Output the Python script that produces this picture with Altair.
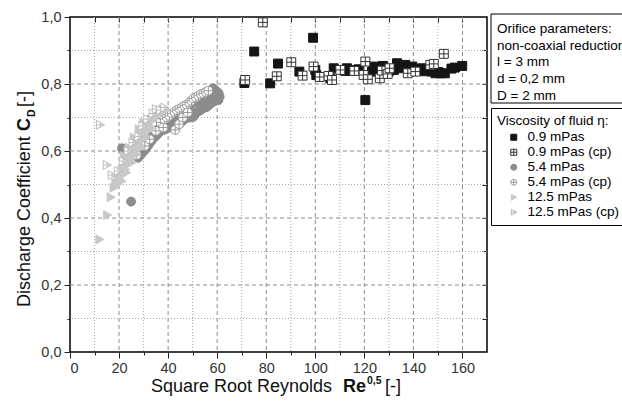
import altair as alt
import pandas as pd

FONT = "Liberation Sans"

series_names = ["0.9 mPas", "0.9 mPas (cp)", "5.4 mPas", "5.4 mPas (cp)",
                "12.5 mPas", "12.5 mPas (cp)"]

x_09 = [71.1, 75.1, 81.6, 84.8, 93.5, 99.1, 100.0, 100.4, 106.1, 107.5, 112.2,
        112.9, 114.0, 117.0, 117.7, 120.4, 123.1, 123.8, 125.5, 127.6, 130.0,
        132.0, 133.3, 135.4, 136.7, 138.0, 139.5, 142.2, 143.5, 144.5, 145.6,
        147.6, 149.0, 150.0, 151.0, 152.8, 155.5, 156.9, 159.9]
y_09 = [0.803, 0.897, 0.802, 0.861, 0.837, 0.938, 0.842, 0.827, 0.817, 0.847, 0.839,
        0.847, 0.840, 0.842, 0.844, 0.752, 0.837, 0.852, 0.845, 0.854, 0.838,
        0.842, 0.862, 0.847, 0.857, 0.845, 0.852, 0.844, 0.847, 0.838, 0.842,
        0.837, 0.832, 0.836, 0.832, 0.832, 0.846, 0.849, 0.854]

x_09cp = [71.4, 78.6, 84.3, 90.2, 94.8, 99.3, 101.8, 105.4, 106.8, 110.2, 115.9,
          119.7, 120.4, 121.4, 126.3, 127.2, 129.5, 130.3, 137.7, 140.8, 146.9,
          148.3, 152.4]
y_09cp = [0.812, 0.984, 0.823, 0.865, 0.825, 0.852, 0.821, 0.824, 0.812, 0.842, 0.839,
          0.827, 0.867, 0.814, 0.817, 0.840, 0.830, 0.847, 0.832, 0.837, 0.857,
          0.860, 0.890]

x_54 = [21.2, 24.9, 27.8, 29.0, 30.2, 31.0, 32.0, 33.0, 34.0, 35.0, 36.0, 36.7,
        37.8, 38.8, 39.8, 40.8, 41.8, 42.8, 43.8, 44.9, 45.8, 46.8, 47.8, 48.8,
        49.8, 50.3, 51.2, 52.2, 53.2, 54.2, 55.0, 55.8, 56.8, 57.8, 58.8, 59.8,
        60.5, 61.0, 60.6, 59.8, 58.8, 58.4, 57.5, 56.5, 55.5, 54.5, 53.5, 52.5,
        51.5, 50.5, 49.5, 48.5, 47.5, 46.5, 45.5, 44.5, 43.5, 42.5, 41.5, 40.5,
        39.5, 38.5, 37.5, 36.5, 35.5, 34.5, 33.5, 53.0, 55.0, 57.0, 59.0, 60.0,
        56.0, 58.0]
y_54 = [0.608, 0.449, 0.580, 0.590, 0.600, 0.608, 0.618, 0.628, 0.638, 0.645, 0.652, 0.658,
        0.662, 0.665, 0.668, 0.672, 0.676, 0.680, 0.684, 0.682, 0.690, 0.695, 0.700, 0.700,
        0.706, 0.702, 0.712, 0.718, 0.722, 0.728, 0.730, 0.732, 0.738, 0.745, 0.748, 0.752,
        0.752, 0.762, 0.772, 0.778, 0.784, 0.787, 0.782, 0.778, 0.772, 0.768, 0.764, 0.758,
        0.752, 0.748, 0.740, 0.732, 0.725, 0.718, 0.712, 0.706, 0.700, 0.695, 0.690, 0.686,
        0.682, 0.678, 0.672, 0.668, 0.662, 0.655, 0.648, 0.740, 0.752, 0.762, 0.768, 0.765,
        0.757, 0.775]

x_54cp = [27.2, 28.2, 30.5, 32.5, 35.0, 37.0, 38.0, 38.5, 39.5, 40.5, 41.5, 42.6,
          42.9, 43.6, 44.5, 44.6, 45.6, 46.0, 46.6, 47.6, 48.0, 48.6, 49.5, 50.3,
          51.3, 52.3, 53.4, 54.4, 55.4, 56.4]
y_54cp = [0.588, 0.643, 0.615, 0.635, 0.660, 0.685, 0.670, 0.695, 0.700, 0.705, 0.712, 0.717,
          0.663, 0.722, 0.680, 0.726, 0.730, 0.700, 0.735, 0.738, 0.715, 0.745, 0.750, 0.757,
          0.760, 0.765, 0.770, 0.772, 0.776, 0.780]

x_125 = [12.0, 15.2, 16.6, 17.8, 18.5, 19.2, 19.6, 20.3, 20.8, 21.4, 21.9, 22.5,
         23.0, 23.6, 24.1, 24.7, 25.2, 25.8, 26.3, 26.9, 27.4, 28.0, 28.5, 29.1,
         29.6, 30.2, 30.7, 31.3, 31.8, 32.4, 32.9, 33.5, 34.0, 34.6, 35.1, 35.7,
         36.3, 37.0, 37.8, 38.6, 22.0, 24.0, 26.0, 28.0, 30.0, 21.0, 23.0, 25.0,
         27.0, 29.0, 31.0, 33.0]
y_125 = [0.336, 0.409, 0.462, 0.490, 0.505, 0.500, 0.525, 0.515, 0.540, 0.530, 0.555, 0.545,
         0.570, 0.560, 0.585, 0.575, 0.600, 0.590, 0.615, 0.605, 0.630, 0.620, 0.645, 0.635,
         0.660, 0.650, 0.670, 0.665, 0.685, 0.675, 0.695, 0.690, 0.705, 0.700, 0.715, 0.710,
         0.720, 0.715, 0.725, 0.720, 0.585, 0.610, 0.640, 0.665, 0.685, 0.510, 0.535, 0.565,
         0.590, 0.610, 0.640, 0.665]

x_125cp = [12.2, 15.0, 17.0, 19.5, 21.5, 23.5, 25.5, 27.9, 29.5, 31.5, 33.7, 35.0,
           36.7, 38.5]
y_125cp = [0.678, 0.558, 0.528, 0.540, 0.570, 0.600, 0.625, 0.643, 0.675, 0.695, 0.712, 0.725,
           0.722, 0.730]

orifice_lines = ["Orifice parameters:", "non-coaxial reduction", "l = 3 mm",
                 "d = 0,2 mm", "D = 2 mm"]

x_ticks_major = [0, 20, 40, 60, 80, 100, 120, 140, 160]
x_ticks_minor = [10, 30, 50, 70, 90, 110, 130, 150]
x_ticks_all = [0, 10, 20, 30, 40, 50, 60, 70, 80, 90, 100, 110, 120, 130, 140, 150, 160]
y_ticks_major = [0.0, 0.2, 0.4, 0.6, 0.8, 1.0]
y_ticks_minor = [0.1, 0.3, 0.5, 0.7, 0.9]
y_ticks_all = [0.0, 0.1, 0.2, 0.3, 0.4, 0.5, 0.6, 0.7, 0.8, 0.9, 1.0]
x_grid_major = [20, 40, 60, 80, 100, 120, 140, 160]
y_grid_major = [0.2, 0.4, 0.6, 0.8]

shapes = ["square",
          "M-1,-1H1V1H-1Z M-1,0H1 M0,-1V1",
          "circle",
          "M-1,0A1,1 0 1,0 1,0A1,1 0 1,0 -1,0Z M-1,0H1 M0,-1V1",
          "M-0.8,-1L1,0L-0.8,1Z",
          "M-0.8,-1L1,0L-0.8,1Z M-0.8,0H1 M0.1,-0.55V0.55"]
fills = ["#151515", "#ffffff", "#8c8c8c", "#ffffff", "#c8c8c8", "#ffffff"]
strokes = ["#151515", "#333333", "#8c8c8c", "#9a9a9a", "#c8c8c8", "#bcbcbc"]

rows = []
for name, xs, ys in zip(series_names,
                        [x_09, x_09cp, x_54, x_54cp, x_125, x_125cp],
                        [y_09, y_09cp, y_54, y_54cp, y_125, y_125cp]):
    for xv, yv in zip(xs, ys):
        rows.append({"series": name, "x": xv, "y": yv})
df = pd.DataFrame(rows)

xscale = alt.Scale(domain=[0, 170], nice=False, zero=False)
yscale = alt.Scale(domain=[0, 1], nice=False, zero=False)

axis_common = dict(title=None, domain=False, grid=False, tickColor="#222",
                   labelFont=FONT, labelFontSize=14.5, labelColor="#333")

gx_minor = alt.Chart(pd.DataFrame({"v": x_ticks_minor})).mark_rule(
    strokeDash=[1, 2], color="#a8a8a8", strokeWidth=1).encode(
    x=alt.X("v:Q", scale=xscale,
            axis=alt.Axis(orient="bottom", values=x_ticks_minor, tickSize=3,
                          labels=False, **axis_common)))
gx_major = alt.Chart(pd.DataFrame({"v": x_grid_major})).mark_rule(
    strokeDash=[4, 3], color="#8c8c8c", strokeWidth=1).encode(
    x=alt.X("v:Q", scale=xscale,
            axis=alt.Axis(orient="bottom", values=x_ticks_major, tickSize=6,
                          labelPadding=3, **axis_common)))
gy_minor = alt.Chart(pd.DataFrame({"v": y_ticks_minor})).mark_rule(
    strokeDash=[1, 2], color="#a8a8a8", strokeWidth=1).encode(
    y=alt.Y("v:Q", scale=yscale,
            axis=alt.Axis(orient="left", values=y_ticks_minor, tickSize=3,
                          labels=False, **axis_common)))
gy_major = alt.Chart(pd.DataFrame({"v": y_grid_major})).mark_rule(
    strokeDash=[4, 3], color="#8c8c8c", strokeWidth=1).encode(
    y=alt.Y("v:Q", scale=yscale,
            axis=alt.Axis(orient="left", values=y_ticks_major, tickSize=6,
                          labelPadding=3,
                          labelExpr="replace(format(datum.value, '.1f'), '.', ',')",
                          **axis_common)))

leg = alt.Legend(title="Viscosity of fluid \u03b7:", orient="none", legendX=421, legendY=91,
                 strokeColor="black", padding=6, fillColor="white",
                 titleFont=FONT, titleFontSize=13.5, titleFontWeight="normal",
                 titleColor="black", titlePadding=3,
                 labelFont=FONT, labelFontSize=13.5, labelColor="black",
                 symbolSize=36, symbolOffset=10, labelOffset=7, rowPadding=0,
                 symbolStrokeWidth=1,
                 labelExpr="indexof(datum.label, '0.9') == 0 ? '\u00a0\u00a0' + datum.label : datum.label")

points = alt.Chart(df).mark_point(filled=True, opacity=1, size=80, strokeWidth=1).encode(
    x=alt.X("x:Q", scale=xscale,
            axis=alt.Axis(orient="top", values=x_ticks_all[1:], tickSize=5, offset=-5,
                          labels=False, **axis_common)),
    y=alt.Y("y:Q", scale=yscale,
            axis=alt.Axis(orient="right", values=y_ticks_all[1:-1], tickSize=5, offset=-5,
                          labels=False, **axis_common)),
    shape=alt.Shape("series:N", scale=alt.Scale(domain=series_names, range=shapes), legend=leg),
    fill=alt.Fill("series:N", scale=alt.Scale(domain=series_names, range=fills), legend=leg),
    stroke=alt.Stroke("series:N", scale=alt.Scale(domain=series_names, range=strokes), legend=leg),
)

one = pd.DataFrame({"a": [0]})


def label(text, x, y, size=18, weight="normal", angle=0):
    return alt.Chart(one).mark_text(
        text=text, font=FONT, fontSize=size, fontWeight=weight, align="left",
        baseline="alphabetic", angle=angle, color="#111").encode(
        x=alt.value(x), y=alt.value(y))


orifice_box = alt.Chart(one).mark_rect(fill="white", stroke="black", strokeWidth=1).encode(
    x=alt.value(421), x2=alt.value(640), y=alt.value(-3), y2=alt.value(86))
orifice_text = alt.Chart(one).mark_text(
    text="\n".join(orifice_lines), lineBreak="\n", lineHeight=16.7, font=FONT,
    fontSize=13.5, align="left", baseline="alphabetic", color="black").encode(
    x=alt.value(427), y=alt.value(16))

texts = [
    label("Square Root Reynolds", 81, 375),
    label("Re", 273, 375, weight="bold"),
    label("0,5", 297, 367, size=10.5, weight="bold"),
    label("[-]", 315, 375),
    label("Discharge Coefficient", -40, 290, angle=270),
    label("C", -40, 114, weight="bold", angle=270),
    label("D", -35, 100, size=10.5, weight="bold", angle=270),
    label("[-]", -40, 90, angle=270),
]

chart = alt.layer(gx_minor, gx_major, gy_minor, gy_major, points, orifice_box, orifice_text,
                  *texts).resolve_axis(x="independent", y="independent").properties(
    width=417, height=335,
    autosize=alt.AutoSizeParams(type="none"),
    padding={"left": 70, "top": 17, "right": 135, "bottom": 57},
    background="white",
).configure_view(stroke="black", strokeWidth=1.5)

chart.save("out.html", embed_options={"renderer": "svg", "actions": False})
